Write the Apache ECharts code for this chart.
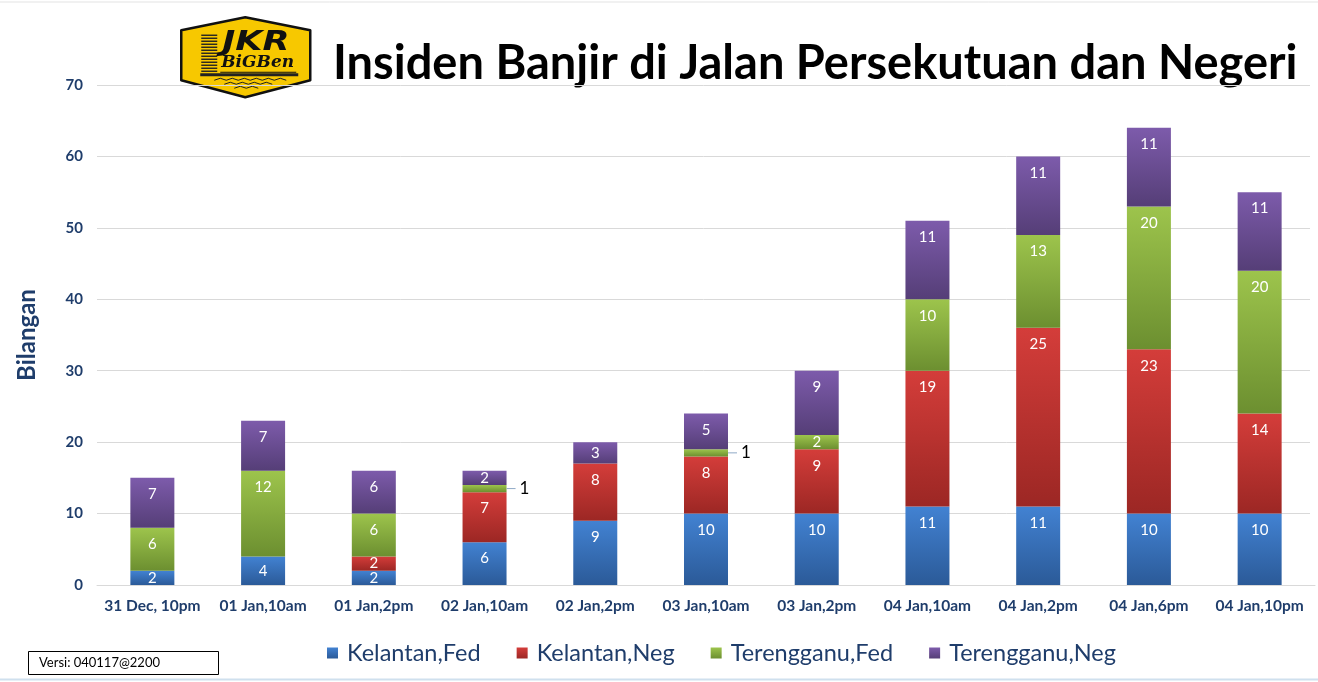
<!DOCTYPE html>
<html>
<head>
<meta charset="utf-8">
<script src="https://cdn.jsdelivr.net/npm/echarts@6/dist/echarts.min.js"></script>
<style>
html,body{margin:0;padding:0;background:#fff;}
#c{width:1318px;height:682px;}
</style>
</head>
<body>
<div id="c"></div>
<script>
var categories = ['31 Dec, 10pm','01 Jan,10am','01 Jan,2pm','02 Jan,10am','02 Jan,2pm','03 Jan,10am','03 Jan,2pm','04 Jan,10am','04 Jan,2pm','04 Jan,6pm','04 Jan,10pm'];
var kelantanFed = [2,4,2,6,9,10,10,11,11,10,10];
var kelantanNeg = [0,0,2,7,8,8,9,19,25,23,14];
var terengganuFed = [6,12,6,1,0,1,2,10,13,20,20];
var terengganuNeg = [7,7,6,2,3,5,9,11,11,11,11];
var seriesNames = ['Kelantan,Fed','Kelantan,Neg','Terengganu,Fed','Terengganu,Neg'];
var yTicks = {min:0, max:70, interval:10};

var FONT = 'Lato, "Open Sans", sans-serif';
var navy = '#1f3d6b';
var palette = [
  {top:'#4282d2', bot:'#2b5a98', solid:'#3a70b8'},
  {top:'#d43d3a', bot:'#9c2724', solid:'#c0312f'},
  {top:'#9dc44c', bot:'#6c8f30', solid:'#8db641'},
  {top:'#7d5bab', bot:'#553e77', solid:'#6d4f98'}
];
function grad(p){
  return {type:'linear',x:0,y:0,x2:0,y2:1,colorStops:[{offset:0,color:p.top},{offset:1,color:p.bot}]};
}
function makeData(arr){
  return arr.map(function(v){
    if (v === 1) {
      return {value:v, label:{
        position:'right', distance:0, color:'#000',
        formatter: function(p){ return '{l|}{v|' + p.value + '}'; },
        rich: {
          l: {width: 9, height: 1, backgroundColor: '#8fa9c6', verticalAlign: 'middle'},
          v: {color: '#000', fontSize: 17, fontFamily: FONT, padding: [0,0,0,4]}
        }
      }};
    }
    if (v <= 4) {
      return {value:v, label:{position:'inside'}};
    }
    return v;
  });
}
var allVals = [kelantanFed, kelantanNeg, terengganuFed, terengganuNeg];
var series = allVals.map(function(arr, i){
  return {
    name: seriesNames[i],
    type: 'bar',
    stack: 'total',
    barWidth: 44,
    xAxisIndex: 0, yAxisIndex: 0,
    data: makeData(arr),
    itemStyle: {color: grad(palette[i])},
    label: {
      show: true,
      position: 'insideTop',
      distance: 9,
      color: '#fff',
      fontFamily: FONT,
      fontSize: 15,
      formatter: function(p){ return p.value === 0 ? '' : String(p.value); }
    }
  };
});

var chart = echarts.init(document.getElementById('c'));
chart.setOption({
  animation: false,
  backgroundColor: '#fff',
  color: palette.map(function(p){return p.solid;}),
  grid: [
    {left: 97, right: 3, top: 85, bottom: 97},
    {left: 97, right: 8, top: 85, bottom: 97}
  ],
  legend: {
    left: 322, top: 636,
    itemWidth: 11, itemHeight: 11,
    itemGap: 36,
    icon: 'rect',
    textStyle: {fontFamily: FONT, fontSize: 23.5, color: navy, padding: [0,0,0,4]},
    data: seriesNames
  },
  xAxis: [
    {
      type: 'category', gridIndex: 0, data: categories,
      axisLine: {show: true, lineStyle: {color: '#d9d9d9'}},
      axisTick: {show: false},
      axisLabel: {color: navy, fontFamily: FONT, fontWeight: 'bold', fontSize: 15.5, margin: 13, interval: 0}
    },
    {type: 'category', gridIndex: 1, data: categories, show: false}
  ],
  yAxis: [
    {
      type: 'value', gridIndex: 0, min: yTicks.min, max: yTicks.max, interval: yTicks.interval,
      axisLine: {show: false}, axisTick: {show: false},
      splitLine: {show: false},
      axisLabel: {color: navy, fontFamily: FONT, fontWeight: 'bold', fontSize: 15, margin: 14},
      name: 'Bilangan', nameLocation: 'middle', nameRotate: 90, nameGap: 58,
      nameTextStyle: {color: navy, fontFamily: FONT, fontWeight: 'bold', fontSize: 24}
    },
    {
      type: 'value', gridIndex: 1, min: yTicks.min, max: yTicks.max, interval: yTicks.interval,
      axisLine: {show: false}, axisTick: {show: false}, axisLabel: {show: false},
      splitLine: {show: true, lineStyle: {color: '#d9d9d9', width: 1}}
    }
  ],
  series: series,
  graphic: [
    {type:'line', shape:{x1:0,y1:2,x2:1318,y2:2}, style:{stroke:'#e3e3e3', lineWidth:1}, silent:true},
    {type:'line', shape:{x1:0,y1:679.5,x2:1318,y2:679.5}, style:{stroke:'#cfe0ee', lineWidth:2}, silent:true},
    {type:'text', left:333, top:40, style:{text:'Insiden Banjir di Jalan Persekutuan dan Negeri', font:'bold 47px '+FONT, fill:'#000'}},
    {type:'rect', shape:{x:28.5,y:651.5,width:190,height:23}, style:{fill:'#fff', stroke:'#000', lineWidth:1}},
    {type:'text', left:39, top:656, style:{text:'Versi: 040117@2200', font:'13px '+FONT, fill:'#000'}},
    {
      type:'group', left:180, top:16,
      children:[
        {type:'polygon', shape:{points:[[1,14],[65,1],[130,14],[130,64],[65,81],[1,64]]}, style:{fill:'#f7c800', stroke:'#111', lineWidth:2.5, lineJoin:'round'}},
        {type:'group', children:[0,1,2,3,4,5,6,7,8,9,10,11,12].map(function(k){
          return {type:'line', shape:{x1:21,y1:19+k*3,x2:37,y2:19+k*3}, style:{stroke:'#222', lineWidth:1.4}};
        })},
        {type:'rect', shape:{x:20,y:57,width:98,height:3}, style:{fill:'#222'}},
        {type:'text', x:42, y:13, scaleX:1.3, style:{text:'JKR', font:'italic bold 27px "DejaVu Sans", sans-serif', fill:'#111'}},
        {type:'text', x:41, y:38, style:{text:'BiGBen', font:'italic bold 17px "DejaVu Serif", serif', fill:'#111'}},
        {type:'line', shape:{x1:40,y1:56,x2:116,y2:56}, style:{stroke:'#111', lineWidth:1}},
        {type:'polyline', shape:{points:[[34,64],[40,62],[46,64],[52,62],[58,64],[64,62],[70,64],[76,62],[82,64],[88,62],[94,64],[100,62],[106,64]]}, style:{stroke:'#222', lineWidth:1, fill:null}},
        {type:'polyline', shape:{points:[[44,68],[50,66],[56,68],[62,66],[68,68],[74,66],[80,68],[86,66],[92,68]]}, style:{stroke:'#222', lineWidth:1, fill:null}},
        {type:'polyline', shape:{points:[[54,72],[60,70],[66,72],[72,70],[78,72]]}, style:{stroke:'#222', lineWidth:1, fill:null}}
      ]
    }
  ]
});
</script>
</body>
</html>
